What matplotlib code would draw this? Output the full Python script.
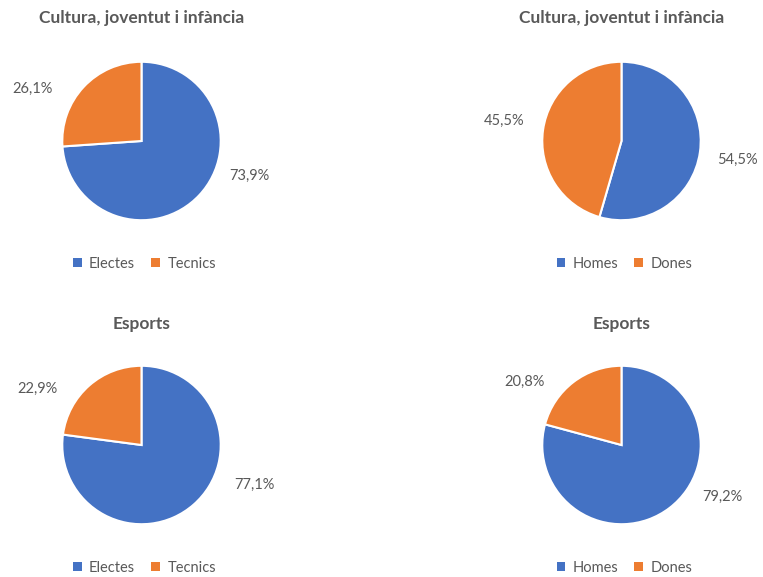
import matplotlib
matplotlib.use("Agg")
import matplotlib.pyplot as plt
from matplotlib.patches import Patch

plt.rcParams['font.family'] = ['Lato', 'DejaVu Sans']

TEXT = '#595959'
BLUE = '#4472C4'
ORANGE = '#ED7D31'

titles = ["Cultura, joventut i infància", "Cultura, joventut i infància",
          "Esports", "Esports"]
legend_labels = [["Electes", "Tecnics"], ["Homes", "Dones"],
                 ["Electes", "Tecnics"], ["Homes", "Dones"]]
shares = [[73.9, 26.1], [54.5, 45.5], [77.1, 22.9], [79.2, 20.8]]

# layout (pixels): pie centres, label positions in radius units
W, H = 763, 577
centres = [(141.5, 141), (621.5, 141), (141.5, 445), (621.5, 445)]
radius_px = 80
label_pos = [[(1.36, -0.44), (-1.37, 0.66)],
             [(1.46, -0.24), (-1.48, 0.26)],
             [(1.42, -0.5), (-1.31, 0.71)],
             [(1.27, -0.66), (-1.23, 0.8)]]
title_y = [18, 18, 324, 324]
legend_y = [264, 264, 568, 568]

fig = plt.figure(figsize=(W / 100, H / 100), dpi=100)

for i in range(4):
    cx, cy = centres[i]
    ax = fig.add_axes([(cx - radius_px) / W, 1 - (cy + radius_px) / H,
                       2 * radius_px / W, 2 * radius_px / H])
    ax.pie(shares[i], colors=[BLUE, ORANGE], startangle=90, counterclock=False,
           radius=1, wedgeprops=dict(edgecolor='white', linewidth=1.5))
    ax.set_xlim(-1.01, 1.01)
    ax.set_ylim(-1.01, 1.01)
    ax.set_aspect('equal')
    for val, (lx, ly) in zip(shares[i], label_pos[i]):
        ax.text(lx, ly, f"{val:.1f}%".replace('.', ','), ha='center',
                va='center', fontsize=10.5, color=TEXT, clip_on=False)
    fig.text(cx / W, 1 - title_y[i] / H, titles[i], ha='center', va='center',
             fontsize=12.5, fontweight='bold', color=TEXT)
    handles = [Patch(facecolor=c, edgecolor='none') for c in (BLUE, ORANGE)]
    fig.legend(handles, legend_labels[i], loc='center',
               bbox_to_anchor=((cx + 3) / W, 1 - legend_y[i] / H), ncol=2,
               frameon=False, fontsize=10.5, labelcolor=TEXT,
               handlelength=0.6, handleheight=0.6, handletextpad=0.5,
               columnspacing=1.1)

fig.savefig('out.png', dpi=100, facecolor='white')
